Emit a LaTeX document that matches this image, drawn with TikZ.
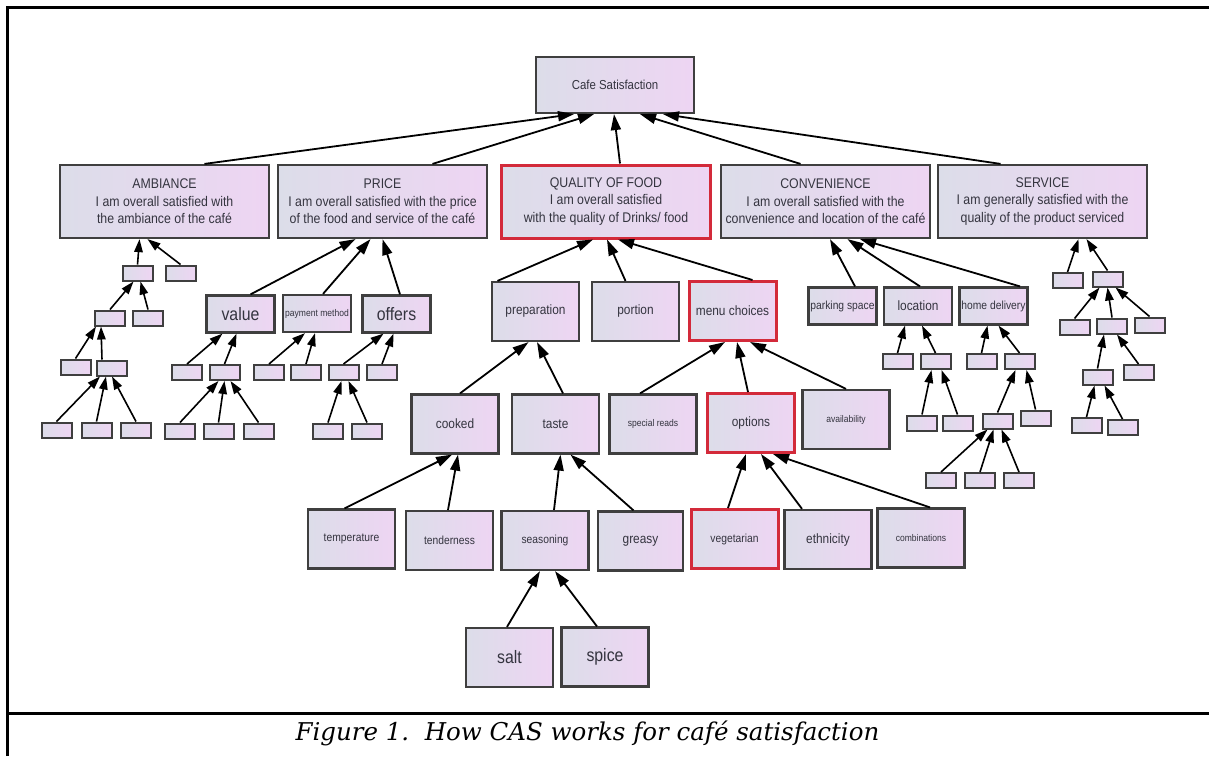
\documentclass[tikz,border=0pt]{standalone}
\usepackage{fontspec}
\usepackage{xcolor}
\usetikzlibrary{arrows.meta}
\newfontfamily\boxfont[FakeStretch=0.88]{Liberation Sans}
\newfontfamily\capfont{DejaVu Serif}
\definecolor{boxleft}{HTML}{DCDDE9}
\definecolor{boxright}{HTML}{EED5F3}
\definecolor{boxline}{HTML}{3F3F3F}
\definecolor{hilite}{HTML}{D32A3A}
\definecolor{labeltext}{HTML}{34343F}

\begin{document}
\begin{tikzpicture}[x=1pt, y=-1pt]
    % Styles
    \tikzstyle{basebox} = [rectangle, draw=boxline, line width=2.2pt, left color=boxleft, right color=boxright, text=labeltext, inner sep=1pt, align=center, font=\boxfont\fontsize{13.5}{16}\selectfont]
    \tikzstyle{rootbox} = [basebox, minimum width=158pt, minimum height=56pt, font=\boxfont\fontsize{13}{16}\selectfont]
    \tikzstyle{catbox} = [basebox, minimum width=209pt, minimum height=73pt, font=\boxfont\fontsize{14}{17.5}\selectfont]
    \tikzstyle{midbox} = [basebox, minimum width=87pt, minimum height=59pt]
    \tikzstyle{subbox} = [basebox, minimum width=68pt, minimum height=37pt]
    \tikzstyle{tinybox} = [basebox, line width=2pt, minimum width=30pt, minimum height=15pt]
    \tikzstyle{chosen} = [draw=hilite, line width=3pt]
    \tikzstyle{bigtext} = [font=\boxfont\fontsize{18}{20}\selectfont]
    \tikzstyle{smalltext} = [font=\boxfont\fontsize{11.7}{14}\selectfont]
    \tikzstyle{tinytext} = [font=\boxfont\fontsize{9.7}{12}\selectfont]
    \tikzstyle{arrow} = [line width=1.8pt, -{Triangle[length=16pt, width=10pt]}]
    \tikzstyle{smallarrow} = [line width=1.6pt, -{Triangle[length=13pt, width=8.5pt]}]

    \useasboundingbox (0,0) rectangle (1209,756);

    % Frame and caption
    \draw[line width=3pt] (7,756) -- (7,7) -- (1209,7);
    \draw[line width=3pt] (7,713) -- (1209,713);
    \node[font=\capfont\itshape\fontsize{24.5}{28}\selectfont, anchor=base] (caption) at (587.5,740) {Figure 1.\ \ How CAS works for café satisfaction};

    % Top and categories
    \node[rootbox] (root) at (615,85) {Cafe Satisfaction};
    \node[catbox] (amb) at (164.5,201.5) {AMBIANCE\\I am overall satisfied with\\the ambiance of the café};
    \node[catbox] (price) at (382.5,201.5) {PRICE\\I am overall satisfied with the price\\of the food and service of the café};
    \node[catbox, chosen] (qof) at (606,201.5) {QUALITY OF FOOD\\I am overall satisfied\\with the quality of Drinks/ food};
    \node[catbox] (conv) at (825.5,201.5) {CONVENIENCE\\I am overall satisfied with the\\convenience and location of the café};
    \node[catbox] (serv) at (1042.5,201.5) {SERVICE\\I am generally satisfied with the\\quality of the product serviced};

    % Quality of food
    \node[midbox] (prep) at (535.5,311.5) {preparation};
    \node[midbox] (portion) at (635.5,311.5) {portion};
    \node[midbox, chosen] (menu) at (732.5,311) {menu choices};
    \node[midbox] (cooked) at (455,424) {cooked};
    \node[midbox] (taste) at (555.5,424) {taste};
    \node[midbox, tinytext] (special) at (653,424) {special reads};
    \node[midbox, chosen] (options) at (751,423) {options};
    \node[midbox, tinytext] (avail) at (846,419.5) {availability};
    \node[midbox, smalltext] (temp) at (351.5,539) {temperature};
    \node[midbox, smalltext] (tender) at (449.5,540.5) {tenderness};
    \node[midbox, smalltext] (season) at (545,540.5) {seasoning};
    \node[midbox, minimum width=85pt] (greasy) at (640.5,541) {greasy};
    \node[midbox, smalltext, chosen] (veg) at (734.5,539) {vegetarian};
    \node[midbox] (ethn) at (828,539.5) {ethnicity};
    \node[midbox, tinytext] (comb) at (921,538) {combinations};
    \node[midbox, bigtext] (salt) at (509.5,657.5) {salt};
    \node[midbox, bigtext] (spice) at (605,657) {spice};

    % Price and convenience
    \node[subbox, bigtext] (value) at (240.5,314) {value};
    \node[subbox, tinytext] (paym) at (317,313.5) {payment method};
    \node[subbox, bigtext] (offers) at (396.5,314) {offers};
    \node[subbox, smalltext] (park) at (842.5,306) {parking space};
    \node[subbox] (loc) at (918,306) {location};
    \node[subbox, smalltext] (hdel) at (993.5,306) {home delivery};

    % Unlabelled boxes
    \node[tinybox] (a1) at (137.5,273) {};
    \node[tinybox] (a2) at (180.5,273) {};
    \node[tinybox] (a3) at (110,318) {};
    \node[tinybox] (a4) at (148,318) {};
    \node[tinybox] (a5) at (75.5,367) {};
    \node[tinybox] (a6) at (112,368) {};
    \node[tinybox] (a7) at (56.5,430) {};
    \node[tinybox] (a8) at (96.5,430) {};
    \node[tinybox] (a9) at (136,430) {};
    \node[tinybox] (v1) at (187,372.5) {};
    \node[tinybox] (v2) at (224.5,372.5) {};
    \node[tinybox] (v3) at (180,431) {};
    \node[tinybox] (v4) at (218.5,431) {};
    \node[tinybox] (v5) at (258.5,431) {};
    \node[tinybox] (p1) at (269,372.5) {};
    \node[tinybox] (p2) at (306,372.5) {};
    \node[tinybox] (o1) at (343.5,372.5) {};
    \node[tinybox] (o2) at (382,372.5) {};
    \node[tinybox] (o3) at (328,431) {};
    \node[tinybox] (o4) at (367,431) {};
    \node[tinybox] (l1) at (897.5,361.5) {};
    \node[tinybox] (l2) at (935.5,361.5) {};
    \node[tinybox] (l3) at (922,423) {};
    \node[tinybox] (l4) at (957.5,423) {};
    \node[tinybox] (h1) at (981.5,361.5) {};
    \node[tinybox] (h2) at (1019.5,361.5) {};
    \node[tinybox] (h3) at (997.5,421) {};
    \node[tinybox] (h4) at (1035.5,418) {};
    \node[tinybox] (c1) at (941,480.5) {};
    \node[tinybox] (c2) at (980,480.5) {};
    \node[tinybox] (c3) at (1019,480.5) {};
    \node[tinybox] (s1) at (1067.5,280.5) {};
    \node[tinybox] (s2) at (1107.5,279) {};
    \node[tinybox] (s3) at (1074.5,327) {};
    \node[tinybox] (s4) at (1112,326) {};
    \node[tinybox] (s5) at (1149.5,325) {};
    \node[tinybox] (s6) at (1097.5,377) {};
    \node[tinybox] (s7) at (1138.5,372.5) {};
    \node[tinybox] (s8) at (1086.5,425.5) {};
    \node[tinybox] (s9) at (1122.5,427.5) {};

    % Arrows to the top
    \draw[arrow] ([xshift=40pt]amb.north) -- ([xshift=-41pt]root.south);
    \draw[arrow] ([xshift=50pt]price.north) -- ([xshift=-21pt]root.south);
    \draw[arrow] ([xshift=14pt]qof.north) -- ([xshift=-1pt]root.south);
    \draw[arrow] ([xshift=-25pt]conv.north) -- ([xshift=25pt]root.south);
    \draw[arrow] ([xshift=-42pt]serv.north) -- ([xshift=48pt]root.south);

    % Arrows, quality of food
    \draw[arrow] ([xshift=-38pt]prep.north) -- ([xshift=-13pt]qof.south);
    \draw[arrow] ([xshift=-10pt]portion.north) -- ([xshift=1pt]qof.south);
    \draw[arrow] ([xshift=20pt]menu.north) -- ([xshift=12pt]qof.south);
    \draw[arrow] ([xshift=5pt]cooked.north) -- ([xshift=-7pt]prep.south);
    \draw[arrow] ([xshift=7.5pt]taste.north) -- ([xshift=1.5pt]prep.south);
    \draw[arrow] ([xshift=-13pt]special.north) -- ([xshift=-7.5pt]menu.south);
    \draw[arrow] ([xshift=-3pt]options.north) -- ([xshift=4.5pt]menu.south);
    \draw[arrow] (avail.north) -- ([xshift=17.5pt]menu.south);
    \draw[arrow] ([xshift=-7pt]temp.north) -- ([xshift=-3pt]cooked.south);
    \draw[arrow] ([xshift=-1.5pt]tender.north) -- ([xshift=3pt]cooked.south);
    \draw[arrow] ([xshift=9pt]season.north) -- ([xshift=5pt]taste.south);
    \draw[arrow] ([xshift=-7pt]greasy.north) -- ([xshift=15pt]taste.south);
    \draw[arrow] ([xshift=-6.5pt]veg.north) -- ([xshift=-5pt]options.south);
    \draw[arrow] ([xshift=-26pt]ethn.north) -- ([xshift=10pt]options.south);
    \draw[arrow] ([xshift=9pt]comb.north) -- ([xshift=22pt]options.south);
    \draw[arrow] ([xshift=-2.5pt]salt.north) -- ([xshift=-5pt]season.south);
    \draw[arrow] ([xshift=-8pt]spice.north) -- ([xshift=10pt]season.south);

    % Arrows, price, convenience, service
    \draw[arrow] ([xshift=10pt]value.north) -- ([xshift=-27pt]price.south);
    \draw[arrow] ([xshift=6pt]paym.north) -- ([xshift=-12pt]price.south);
    \draw[arrow] ([xshift=3.5pt]offers.north) -- (price.south);
    \draw[arrow] ([xshift=12.5pt]park.north) -- ([xshift=4.5pt]conv.south);
    \draw[arrow] ([xshift=2pt]loc.north) -- ([xshift=22pt]conv.south);
    \draw[arrow] ([xshift=26.5pt]hdel.north) -- ([xshift=34.5pt]conv.south);
    \draw[smallarrow] (s1.north) -- ([xshift=36pt]serv.south);
    \draw[smallarrow] (s2.north) -- ([xshift=44pt]serv.south);
    \draw[smallarrow] (a1.north) -- ([xshift=-25pt]amb.south);
    \draw[smallarrow] (a2.north) -- ([xshift=-17pt]amb.south);

    % Arrows, unlabelled boxes
    \draw[smallarrow] (a3.north) -- ([xshift=-4pt]a1.south);
    \draw[smallarrow] (a4.north) -- ([xshift=3pt]a1.south);
    \draw[smallarrow] (a5.north) -- ([xshift=-14pt]a3.south);
    \draw[smallarrow] ([xshift=-10pt]a6.north) -- ([xshift=-9pt]a3.south);
    \draw[smallarrow] (a7.north) -- ([xshift=-12pt]a6.south);
    \draw[smallarrow] (a8.north) -- ([xshift=-6pt]a6.south);
    \draw[smallarrow] (a9.north) -- (a6.south);
    \draw[smallarrow] (v1.north) -- ([xshift=-18pt]value.south);
    \draw[smallarrow] (v2.north) -- ([xshift=-4pt]value.south);
    \draw[smallarrow] (v3.north) -- ([xshift=-6pt]v2.south);
    \draw[smallarrow] (v4.north) -- (v2.south);
    \draw[smallarrow] (v5.north) -- ([xshift=6pt]v2.south);
    \draw[smallarrow] (p1.north) -- ([xshift=-12pt]paym.south);
    \draw[smallarrow] (p2.north) -- ([xshift=-2pt]paym.south);
    \draw[smallarrow] (o1.north) -- ([xshift=-13pt]offers.south);
    \draw[smallarrow] (o2.north) -- ([xshift=-3pt]offers.south);
    \draw[smallarrow] (o3.north) -- ([xshift=-2pt]o1.south);
    \draw[smallarrow] (o4.north) -- ([xshift=5pt]o1.south);
    \draw[smallarrow] (l1.north) -- ([xshift=-13pt]loc.south);
    \draw[smallarrow] (l2.north) -- ([xshift=4pt]loc.south);
    \draw[smallarrow] (l3.north) -- ([xshift=-4pt]l2.south);
    \draw[smallarrow] (l4.north) -- ([xshift=6pt]l2.south);
    \draw[smallarrow] (h1.north) -- ([xshift=-6pt]hdel.south);
    \draw[smallarrow] (h2.north) -- ([xshift=5pt]hdel.south);
    \draw[smallarrow] (h3.north) -- ([xshift=-4pt]h2.south);
    \draw[smallarrow] (h4.north) -- ([xshift=7pt]h2.south);
    \draw[smallarrow] (c1.north) -- ([xshift=-10pt]h3.south);
    \draw[smallarrow] (c2.north) -- ([xshift=-4pt]h3.south);
    \draw[smallarrow] (c3.north) -- ([xshift=4pt]h3.south);
    \draw[smallarrow] (s3.north) -- ([xshift=-8pt]s2.south);
    \draw[smallarrow] (s4.north) -- (s2.south);
    \draw[smallarrow] (s5.north) -- ([xshift=8pt]s2.south);
    \draw[smallarrow] (s6.north) -- ([xshift=-8pt]s4.south);
    \draw[smallarrow] (s7.north) -- ([xshift=5pt]s4.south);
    \draw[smallarrow] (s8.north) -- ([xshift=-3pt]s6.south);
    \draw[smallarrow] (s9.north) -- ([xshift=7pt]s6.south);
\end{tikzpicture}
\end{document}
